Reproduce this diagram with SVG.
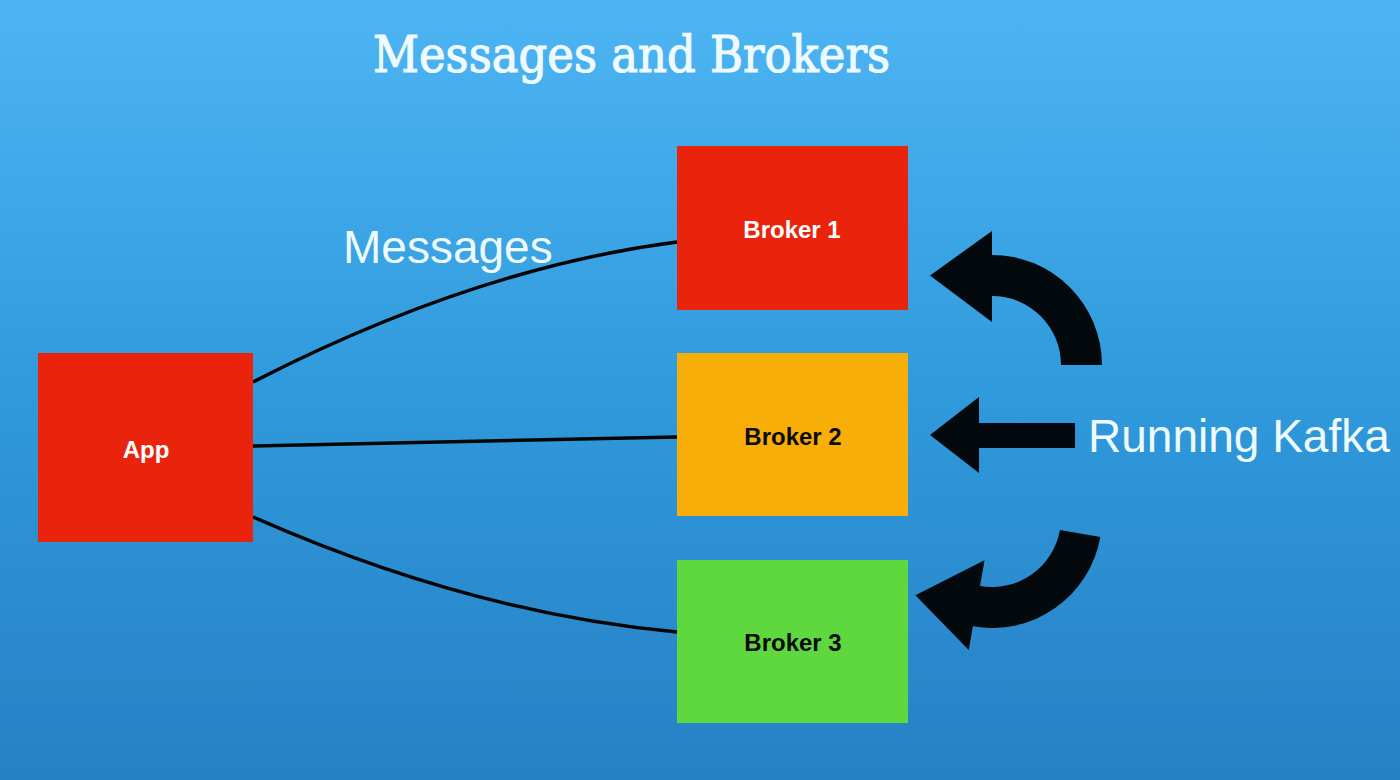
<svg xmlns="http://www.w3.org/2000/svg" width="1400" height="780" viewBox="0 0 1400 780">
<defs>
<linearGradient id="bg" x1="0" y1="0" x2="0" y2="1">
<stop offset="0" stop-color="#4EB5F3"/>
<stop offset="0.5" stop-color="#2F9ADC"/>
<stop offset="1" stop-color="#2780C4"/>
</linearGradient>
<path id="curl" d="M 69 0 L 110 0 A 110 110 0 0 0 0 -110 L 0 -134 L -62 -89.5 L 0 -43 L 0 -69 A 69 69 0 0 1 69 0 Z"/>
</defs>
<style>
.box{stroke:none}
.lbl{font-family:"Liberation Sans",Arial,sans-serif;font-weight:bold;font-size:24px;text-anchor:middle}
.big{font-family:"Liberation Sans",Arial,sans-serif;font-size:46px;fill:#EEFAFE}
.conn{fill:none;stroke:#050505;stroke-width:3.5}
.arr{fill:#03090C}
</style>
<rect x="0" y="0" width="1400" height="780" fill="url(#bg)"/>
<text x="373" y="72" font-family="'DejaVu Serif','Liberation Serif',serif" font-size="50" fill="#EEFAFE" stroke="#EEFAFE" stroke-width="1.2" textLength="517" lengthAdjust="spacingAndGlyphs">Messages and Brokers</text>
<g id="connectors">
<path class="conn" d="M 253 382 Q 475 268 677 242"/>
<path class="conn" d="M 253 446 L 677 437"/>
<path class="conn" d="M 253 517 Q 470 613 677 632"/>
</g>
<g id="app">
<rect class="box" x="38" y="353" width="215" height="189" fill="#EA240C"/>
<text class="lbl" x="146" y="458" fill="#FFFFFF">App</text>
</g>
<g id="broker1">
<rect class="box" x="677" y="146" width="231" height="164" fill="#EA240C"/>
<text class="lbl" x="792" y="238" fill="#FFFFFF">Broker 1</text>
</g>
<g id="broker2">
<rect class="box" x="677" y="353" width="231" height="163" fill="#F8AE08"/>
<text class="lbl" x="793" y="445" fill="#0A0A0A">Broker 2</text>
</g>
<g id="broker3">
<rect class="box" x="677" y="560" width="231" height="163" fill="#5ED83E"/>
<text class="lbl" x="793" y="651" fill="#0A0A0A">Broker 3</text>
</g>
<text class="big" x="343" y="263">Messages</text>
<g id="running-kafka">
<use href="#curl" class="arr" transform="translate(992,365)"/>
<path class="arr" d="M 930 435 L 979 397 L 979 423 L 1075 423 L 1075 448 L 979 448 L 979 473 Z"/>
<use href="#curl" class="arr" transform="translate(992,518) rotate(10) scale(1,-1)"/>
<text class="big" x="1088" y="452">Running Kafka</text>
</g>
</svg>
